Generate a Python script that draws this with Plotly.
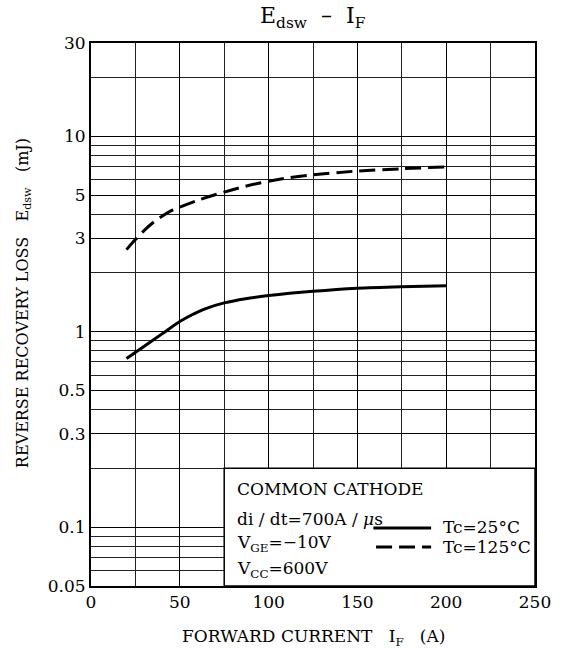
import plotly.graph_objects as go

# Data
if_25 = [20, 30, 40, 50, 55, 60, 65, 75, 87, 100, 125, 150, 175, 200]
edsw_25 = [0.73, 0.843, 0.975, 1.127, 1.196, 1.26, 1.317, 1.404, 1.476, 1.53, 1.61, 1.67, 1.70, 1.72]
if_125 = [20, 25, 30, 35, 40, 45, 50, 60, 75, 87, 100, 112, 125, 150, 175, 200]
edsw_125 = [2.63, 2.96, 3.30, 3.62, 3.90, 4.15, 4.34, 4.70, 5.18, 5.55, 5.89, 6.14, 6.35, 6.64, 6.82, 6.97]

x_ticks = [0, 50, 100, 150, 200, 250]
x_minor = [25, 75, 125, 175, 225]
y_ticks = [0.05, 0.1, 0.3, 0.5, 1, 3, 5, 10, 30]
y_ticktext = ["0.05", "0.1", "0.3", "0.5", "1", "3", "5", "10", "30"]
y_minor = [0.06, 0.07, 0.08, 0.09, 0.2, 0.4, 0.6, 0.7, 0.8, 0.9,
           2, 4, 6, 7, 8, 9, 20]

FONT = "DejaVu Serif"

fig = go.Figure()
fig.add_trace(go.Scatter(x=if_25, y=edsw_25, mode="lines", name="Tc=25°C",
                         line=dict(color="black", width=3, shape="spline", smoothing=0.8)))
fig.add_trace(go.Scatter(x=if_125, y=edsw_125, mode="lines", name="Tc=125°C",
                         line=dict(color="black", width=3, shape="spline", smoothing=0.8,
                                   dash="16px,7px")))

fig.update_layout(
    width=563, height=649,
    margin=dict(l=91, r=19, t=43, b=63),
    paper_bgcolor="white", plot_bgcolor="white",
    showlegend=False,
    font=dict(family=FONT, color="black", size=17),
)
fig.update_xaxes(
    range=[0, 250], tickvals=x_ticks, showline=True, mirror=True, linecolor="black",
    linewidth=2, showgrid=True, gridcolor="black", gridwidth=1.4, ticks="",
    zeroline=False, tickfont=dict(size=17, family=FONT),
    minor=dict(tickvals=x_minor, showgrid=True, gridcolor="#222", gridwidth=1.1),
)
fig.update_yaxes(
    type="log", range=[-1.30103, 1.4771], tickvals=y_ticks, ticktext=y_ticktext,
    showline=True, mirror=True, linecolor="black", linewidth=2,
    showgrid=True, gridcolor="black", gridwidth=1.4, ticks="", zeroline=False,
    tickfont=dict(size=17, family=FONT),
    minor=dict(tickvals=y_minor, showgrid=True, gridcolor="#222", gridwidth=1.1),
)

# Conditions / legend box (covers the grid)
fig.add_shape(type="rect", xref="x", yref="y", x0=75, x1=250, y0=0.05, y1=0.2,
              fillcolor="white", line=dict(color="black", width=1.5), layer="between")

# Legend line samples
fig.add_shape(type="line", xref="paper", yref="paper", x0=0.636, x1=0.766, y0=0.1068, y1=0.1068,
              line=dict(color="black", width=3))
fig.add_shape(type="line", xref="paper", yref="paper", x0=0.642, x1=0.766, y0=0.0718, y1=0.0718,
              line=dict(color="black", width=3, dash="16px,7px"))


def ann(text, x, y, size=17, xanchor="left", **kw):
    fig.add_annotation(text=text, x=x, y=y, xref="paper", yref="paper", showarrow=False,
                       xanchor=xanchor, yanchor="middle",
                       font=dict(size=size, family=FONT, color="black"), **kw)


ann("COMMON CATHODE", 0.3245, 0.1786)
ann("di / dt=700A / <i>μ</i>s", 0.3245, 0.1234)
ann("V<sub>GE</sub>=−10V", 0.3245, 0.078)
ann("V<sub>CC</sub>=600V", 0.3245, 0.030)
ann("Tc=25°C", 0.788, 0.1087)
ann("Tc=125°C", 0.788, 0.0718)

# Titles
ann("E<sub>dsw</sub>  –  I<sub>F</sub>", 0.5, 1.047, size=22, xanchor="center")
ann("FORWARD CURRENT   I<sub>F</sub>   (A)", 0.5, -0.094, size=17, xanchor="center")
ann("REVERSE RECOVERY LOSS   E<sub>dsw</sub>   (mJ)", -0.152, 0.52, size=16,
    xanchor="center", textangle=-90)

fig.write_html("out.html")
